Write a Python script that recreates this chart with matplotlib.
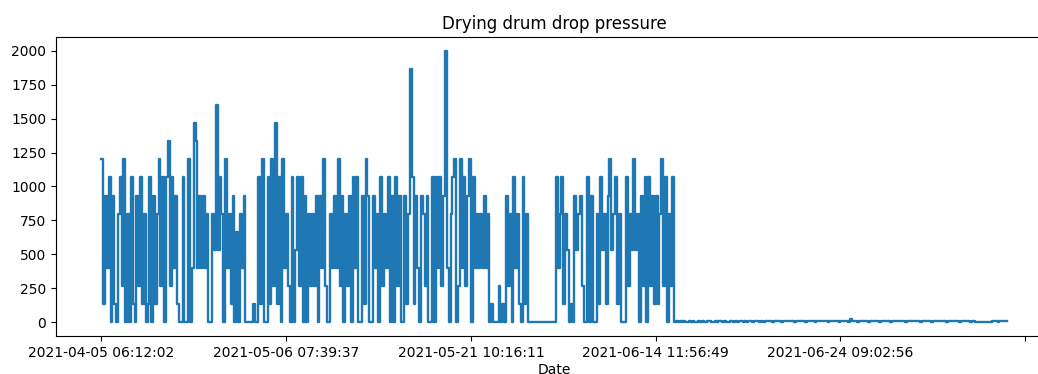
import numpy as np
import matplotlib
matplotlib.use("Agg")
import matplotlib.pyplot as plt

# pressure is logged in steps; readings below are step numbers into this table
level_values = [0, 133.3, 266.7, 400, 533.3, 666.7, 800, 933.3, 1066.7, 1200,
                1333.3, 1466.7, 1600, 1733.3, 1866.7, 2000]

april = [9, 1, 7, 3, 8, 0, 7, 1, 0, 6, 8, 2, 9, 0, 6, 0, 8, 1,
         0, 7, 2, 8, 1, 6, 0, 1, 8, 0, 7, 1, 6, 9, 2, 8, 0, 8,
         10, 2, 8, 3, 7, 1, 0, 0, 8, 0, 0, 9, 0, 3, 11, 10, 3, 7,
         3, 7, 3, 6, 0, 0, 6, 4, 12, 4, 8, 6, 0, 9, 3, 6, 1, 7,
         0, 5, 0, 6, 3, 7]
may = [0, 0, 0, 0, 1, 0, 0, 8, 1, 9, 0, 0, 8, 1, 9, 2, 11, 1,
       8, 0, 9, 3, 6, 2, 0, 8, 0, 4, 8, 2, 8, 0, 7, 0, 6, 2,
       6, 2, 7, 0, 7, 3, 9, 2, 0, 0, 6, 3, 7, 3, 9, 2, 7, 0,
       6, 2, 7, 0, 8, 3, 8, 0, 0, 7, 1, 9, 7, 0, 0, 7, 3, 6,
       0, 8, 2, 6, 3, 8, 0, 7, 0, 8, 2, 7, 0, 0, 7, 1, 6, 14,
       8, 1, 7, 3, 0, 7, 6, 2, 7, 0, 0, 8, 0, 8, 3, 8, 2, 7,
       15, 3, 0, 6, 8, 9, 0, 2, 9, 3, 8, 2, 7, 9, 0, 8, 3, 6,
       3, 6, 3, 7, 3, 6]
june = [0, 1, 0, 0, 0, 2, 0, 1, 0, 7, 2, 6, 0, 8, 3, 6, 1, 0,
        8, 1, 6, 0, 0, 0, 0, 0, 0, 0, 0, 0, 0, 0, 0, 0, 0, 0,
        8, 3, 6, 8, 1, 6, 4, 0, 1, 0, 7, 4, 6, 7, 2, 0, 0, 8,
        0, 7, 0, 0, 6, 1, 8, 4, 6, 1, 7, 9, 4, 6, 8, 1, 6, 0,
        0, 0, 8, 2, 6, 4, 9, 4, 6, 0, 7, 2, 8, 0, 8, 2, 7, 1,
        7, 1, 6, 9, 2, 8, 0, 6, 2, 8, 0]

# after mid-June the drum is idle, raw readings
idle = [8, 5, 7, 6, 9, 4, 6, 8, 5, 7, 3, 6, 9, 5, 8, 6, 4, 7, 10, 6,
        5, 8, 6, 9, 7, 5, 8, 6, 4, 7, 9, 6, 8, 5, 7, 10, 6, 8, 5, 9,
        7, 6, 8, 11, 7, 5, 9, 6, 8, 7, 10, 8, 6, 9, 7, 11, 8, 6, 9, 7,
        8, 10, 7, 9, 6, 8, 10, 7, 9, 8, 6, 9, 7, 10, 8, 6, 9, 7, 11, 8,
        7, 9, 6, 8, 10, 7, 9, 8, 6, 10, 8, 7, 9, 6, 28, 10, 7, 9, 6, 8,
        9, 7, 10, 8, 6, 9, 7, 10, 8, 7, 6, 9, 8, 7, 10, 8, 6, 9, 7, 8,
        10, 7, 9, 8, 6, 9, 7, 10, 8, 9, 7, 8, 6, 9, 10, 7, 8, 9, 6, 8,
        9, 7, 10, 8, 7, 9, 6, 8, 10, 7, 8, 9, 7, 6, 9, 8, 10, 7, 8, 6,
        9, 7, 3, 2, 2, 2, 2, 2, 2, 2, 5, 9, 7, 8, 6, 9, 7, 8, 9, 7]

tick_pos = [0, 100, 200, 300, 400, 500]
tick_labels = ["2021-04-05 06:12:02", "2021-05-06 07:39:37",
               "2021-05-21 10:16:11", "2021-06-14 11:56:49",
               "2021-06-24 09:02:56", ""]

pressure = [level_values[s] for s in april + may + june] + idle
x = np.arange(len(pressure))

fig = plt.figure(figsize=(10.38, 3.74), dpi=100)
# right edge of the axes runs past the picture, as in the original crop
ax = fig.add_axes([0.054, 0.1016, 0.9595, 0.7995])
ax.plot(x, pressure, color="#1f77b4", lw=1.7, drawstyle="steps-post")
ax.spines["right"].set_visible(False)
ax.set_xticks(tick_pos)
ax.set_xticklabels(tick_labels)
ax.set_yticks([0, 250, 500, 750, 1000, 1250, 1500, 1750, 2000])
ax.set_title("Drying drum drop pressure")
ax.set_xlabel("Date", labelpad=2)

plt.savefig("out.png", dpi=100)
